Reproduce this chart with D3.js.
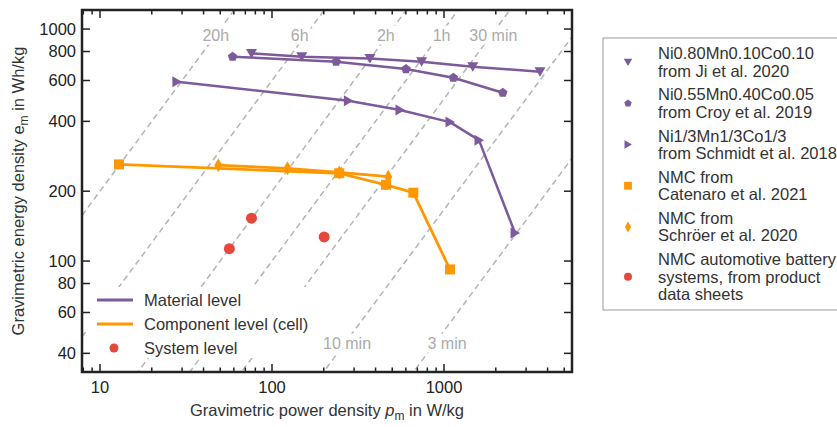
<!DOCTYPE html>
<html>
<head>
<meta charset="utf-8">
<script src="https://cdn.jsdelivr.net/npm/d3@7"></script>
<style>
  body { margin: 0; background: #fff; }
  svg { display: block; font-family: "Liberation Sans", Arial, sans-serif; }
</style>
</head>
<body>
<div id="chart"></div>
<script>
  // --- data (power density W/kg, energy density Wh/kg) ---
  const jiData = [[76, 785], [149, 760], [371, 747], [741, 723], [1469, 688], [3614, 655]];
  const croyData = [[59, 760], [236, 723], [601, 672], [1133, 617], [2195, 531]];
  const schmidtData = [[28, 593], [278, 491], [555, 448], [1083, 397], [1597, 332], [2588, 132]];
  const catenaroData = [[12.9, 261], [246, 239], [460, 213], [663, 197], [1083, 92]];
  const schroerData = [[48.7, 259], [123, 251], [246, 241], [474, 231]];
  const systemData = [[76, 153], [56.5, 113], [201, 127]];

  const timeHours = [20, 6, 2, 1, 0.5, 1 / 6, 0.05];
  const timeLabels = ["20h", "6h", "2h", "1h", "30 min", "10 min", "3 min"];
  const timeLabelTop = [true, true, true, true, true, false, false];

  const xMajorTicks = [10, 100, 1000];
  const xMinorTicks = [8, 9, 20, 30, 40, 50, 60, 70, 80, 90, 200, 300, 400, 500, 600, 700, 800, 900, 2000, 3000, 4000, 5000];
  const yTicks = [40, 60, 80, 100, 200, 400, 600, 800, 1000];

  const purple = "#7d5a9b";
  const orange = "#ff9800";
  const red = "#e5473a";
  const fs = 16.5;

  const W = 837, H = 427;
  const margin = { left: 82, top: 10, right: 265, bottom: 55 };
  const innerW = W - margin.left - margin.right;
  const innerH = H - margin.top - margin.bottom;

  const x = d3.scaleLog().domain([7.86, 5547]).range([margin.left, margin.left + innerW]);
  const y = d3.scaleLog().domain([33.24, 1208]).range([margin.top + innerH, margin.top]);

  const svg = d3.select("#chart").append("svg").attr("width", W).attr("height", H);

  svg.append("defs").append("clipPath").attr("id", "plot-clip")
    .append("rect")
    .attr("x", margin.left).attr("y", margin.top)
    .attr("width", innerW).attr("height", innerH);

  // Constant discharge-time lines e = t * p
  const [p0, p1] = x.domain();
  const guides = svg.append("g").attr("clip-path", "url(#plot-clip)");
  guides.selectAll("line.time")
    .data(timeHours)
    .join("line")
    .classed("time", true)
    .attr("x1", x(p0)).attr("y1", (t) => y(t * p0))
    .attr("x2", x(p1)).attr("y2", (t) => y(t * p1))
    .attr("stroke", "#b4b4b4")
    .attr("stroke-width", 1.5)
    .attr("stroke-dasharray", "6,4");

  // Labels sit on the lines with a white box behind them
  const labelNudge = [0, -6, -2, 2, 2, 2, 12];
  const labelG = svg.append("g");
  timeHours.forEach((t, i) => {
    let ly = timeLabelTop[i] ? 35 : 343;
    let lx = x(y.invert(ly) / t) + labelNudge[i];
    let g = labelG.append("g");
    let txt = g.append("text")
      .attr("x", lx).attr("y", ly)
      .attr("dy", "0.35em")
      .attr("text-anchor", "middle")
      .attr("fill", "#aaaaaa")
      .attr("font-size", 16)
      .text(timeLabels[i]);
    let bb = txt.node().getBBox();
    g.insert("rect", "text")
      .attr("x", bb.x - 2).attr("y", bb.y - 1)
      .attr("width", bb.width + 4).attr("height", bb.height + 2)
      .attr("fill", "#fff");
  });

  // Lower-left legend background
  svg.append("rect")
    .attr("x", 86).attr("y", 287)
    .attr("width", 226).attr("height", 71)
    .attr("fill", "#fff");

  // Series
  const line = d3.line().x((d) => x(d[0])).y((d) => y(d[1]));
  const series = [
    { data: jiData, color: purple, width: 2.5, shape: "down" },
    { data: croyData, color: purple, width: 2.5, shape: "pentagon" },
    { data: schmidtData, color: purple, width: 2.5, shape: "right" },
    { data: catenaroData, color: orange, width: 2.8, shape: "square" },
    { data: schroerData, color: orange, width: 2.8, shape: "diamond" },
  ];

  const shapePath = (shape, s) => {
    // s = scale factor, returns path centred at 0,0
    const pts = {
      down: [[-5.5, -4.5], [5.5, -4.5], [0, 5]],
      right: [[-4.5, -5.5], [-4.5, 5.5], [5, 0]],
      square: [[-5, -5], [5, -5], [5, 5], [-5, 5]],
      diamond: [[0, -7], [4, 0], [0, 7], [-4, 0]],
      pentagon: d3.range(5).map((k) => {
        let a = -Math.PI / 2 + (k * 2 * Math.PI) / 5;
        return [5 * Math.cos(a), 5 * Math.sin(a)];
      }),
    }[shape];
    return "M" + pts.map((p) => `${p[0] * s},${p[1] * s}`).join("L") + "Z";
  };

  const dataG = svg.append("g");
  series.forEach((s) => {
    dataG.append("path")
      .attr("d", line(s.data))
      .attr("fill", "none")
      .attr("stroke", s.color)
      .attr("stroke-width", s.width)
      .attr("stroke-linejoin", "round");
  });
  series.forEach((s) => {
    dataG.selectAll(null)
      .data(s.data)
      .join("path")
      .attr("transform", (d) => `translate(${x(d[0])},${y(d[1])})`)
      .attr("d", shapePath(s.shape, 1))
      .attr("fill", s.color);
  });
  dataG.selectAll("circle.system")
    .data(systemData)
    .join("circle")
    .classed("system", true)
    .attr("cx", (d) => x(d[0]))
    .attr("cy", (d) => y(d[1]))
    .attr("r", 5.5)
    .attr("fill", red);

  // Frame + ticks (inward, mirrored)
  const axisG = svg.append("g").attr("stroke", "#222");
  const x0 = margin.left, x1 = margin.left + innerW;
  const y0 = margin.top, y1 = margin.top + innerH;
  const tickSet = [
    ...xMajorTicks.map((v) => ({ v, len: 8 })),
    ...xMinorTicks.map((v) => ({ v, len: 4.5 })),
  ];
  axisG.selectAll("line.xt")
    .data(tickSet.flatMap((d) => [{ ...d, top: false }, { ...d, top: true }]))
    .join("line")
    .attr("x1", (d) => x(d.v)).attr("x2", (d) => x(d.v))
    .attr("y1", (d) => (d.top ? y0 : y1))
    .attr("y2", (d) => (d.top ? y0 + d.len : y1 - d.len))
    .attr("stroke-width", 1.5);
  axisG.selectAll("line.yt")
    .data(yTicks.flatMap((v) => [{ v, right: false }, { v, right: true }]))
    .join("line")
    .attr("y1", (d) => y(d.v)).attr("y2", (d) => y(d.v))
    .attr("x1", (d) => (d.right ? x1 : x0))
    .attr("x2", (d) => (d.right ? x1 - 8 : x0 + 8))
    .attr("stroke-width", 1.5);
  axisG.append("rect")
    .attr("x", x0).attr("y", y0)
    .attr("width", innerW).attr("height", innerH)
    .attr("fill", "none")
    .attr("stroke-width", 2.5);

  // Tick labels
  svg.append("g").selectAll("text")
    .data(xMajorTicks)
    .join("text")
    .attr("x", (d) => x(d)).attr("y", y1 + 21)
    .attr("text-anchor", "middle")
    .attr("font-size", fs)
    .attr("fill", "#222")
    .text((d) => d);
  svg.append("g").selectAll("text")
    .data(yTicks)
    .join("text")
    .attr("x", x0 - 6).attr("y", (d) => y(d))
    .attr("dy", "0.35em")
    .attr("text-anchor", "end")
    .attr("font-size", fs)
    .attr("fill", "#222")
    .text((d) => d);

  // Axis titles
  let xt = svg.append("text")
    .attr("x", (x0 + x1) / 2).attr("y", 416)
    .attr("text-anchor", "middle")
    .attr("font-size", fs)
    .attr("fill", "#333");
  xt.append("tspan").text("Gravimetric power density ");
  xt.append("tspan").attr("font-style", "italic").text("p");
  xt.append("tspan").attr("font-size", 12).attr("dy", 4).text("m");
  xt.append("tspan").attr("dy", -4).text(" in W/kg");

  let yt = svg.append("text")
    .attr("transform", `translate(24, ${(y0 + y1) / 2}) rotate(-90)`)
    .attr("text-anchor", "middle")
    .attr("font-size", fs)
    .attr("fill", "#333");
  yt.append("tspan").text("Gravimetric energy density e");
  yt.append("tspan").attr("font-size", 12).attr("dy", 4).text("m");
  yt.append("tspan").attr("dy", -4).text(" in Wh/kg");

  // Lower-left legend (levels)
  const levelLabels = ["Material level", "Component level (cell)", "System level"];
  const levelColors = [purple, orange, red];
  const lvl = svg.append("g");
  levelLabels.forEach((lab, i) => {
    let ly = 300 + i * 24;
    if (i < 2) {
      lvl.append("line")
        .attr("x1", 97).attr("x2", 133)
        .attr("y1", ly).attr("y2", ly)
        .attr("stroke", levelColors[i])
        .attr("stroke-width", 3);
    } else {
      lvl.append("circle").attr("cx", 114).attr("cy", ly).attr("r", 4.5).attr("fill", red);
    }
    lvl.append("text")
      .attr("x", 144).attr("y", ly)
      .attr("dy", "0.35em")
      .attr("font-size", fs)
      .attr("fill", "#333")
      .text(lab);
  });

  // Right legend (sources)
  const sourceLabels = [
    ["Ni0.80Mn0.10Co0.10", "from Ji et al. 2020"],
    ["Ni0.55Mn0.40Co0.05", "from Croy et al. 2019"],
    ["Ni1/3Mn1/3Co1/3", "from Schmidt et al. 2018"],
    ["NMC from", "Catenaro et al. 2021"],
    ["NMC from", "Schröer et al. 2020"],
    ["NMC automotive battery", "systems, from product", "data sheets"],
  ];
  const sourceShapes = ["down", "pentagon", "right", "square", "diamond", "circle"];
  const sourceColors = [purple, purple, purple, orange, orange, red];

  const leg = svg.append("g");
  leg.append("rect")
    .attr("x", 603).attr("y", 38)
    .attr("width", 250).attr("height", 272)
    .attr("fill", "#fff")
    .attr("stroke", "#999")
    .attr("stroke-width", 1);
  let cy = 53.5;
  const lh = 17.3;
  sourceLabels.forEach((lines, i) => {
    let my = cy + ((lines.length - 1) * lh) / 2;
    if (sourceShapes[i] === "circle") {
      leg.append("circle").attr("cx", 628).attr("cy", my).attr("r", 4).attr("fill", sourceColors[i]);
    } else {
      leg.append("path")
        .attr("transform", `translate(628,${my})`)
        .attr("d", shapePath(sourceShapes[i], 0.78))
        .attr("fill", sourceColors[i]);
    }
    lines.forEach((l, j) => {
      leg.append("text")
        .attr("x", 658).attr("y", cy + j * lh)
        .attr("dy", "0.35em")
        .attr("font-size", fs)
        .attr("fill", "#333")
        .text(l);
    });
    cy += lines.length * lh + 6.6;
  });
</script>
</body>
</html>
